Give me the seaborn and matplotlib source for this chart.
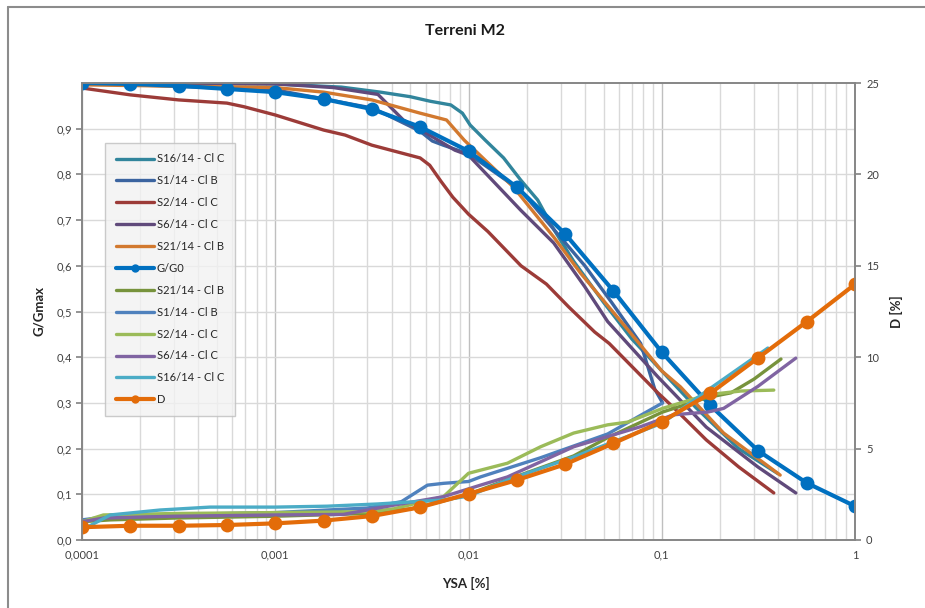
import numpy as np
import pandas as pd
import matplotlib
matplotlib.use("Agg")
import matplotlib.pyplot as plt
from matplotlib.ticker import FixedLocator, FuncFormatter, NullFormatter, LogLocator
from matplotlib.lines import Line2D
import seaborn as sns

sns.set_theme(style="white")
plt.rcParams["font.family"] = ["Lato", "DejaVu Sans"]

# ---- G/Gmax curves (left axis) ----
s16_g_x = [1e-4, 1e-3, 2.2e-3, 3.5e-3, 5e-3, 6.35e-3, 8.1e-3, 9.3e-3, 0.0102, 0.0122, 0.0152, 0.0186, 0.0228, 0.0276, 0.035, 0.05, 0.07, 0.1, 0.15, 0.25, 0.4]
s16_g_y = [1.0, 0.998, 0.991, 0.98, 0.97, 0.96, 0.952, 0.934, 0.908, 0.875, 0.836, 0.788, 0.744, 0.68, 0.61, 0.52, 0.44, 0.37, 0.29, 0.2, 0.145]

s1_g_x = [1e-4, 1e-3, 3.2e-3, 5.6e-3, 6.5e-3, 7.4e-3, 0.01, 0.0186, 0.0276, 0.04, 0.055, 0.0778, 0.092, 0.101]
s1_g_y = [1.0, 0.985, 0.945, 0.895, 0.873, 0.864, 0.845, 0.765, 0.68, 0.6, 0.52, 0.43, 0.33, 0.30]

s2_g_x = [1e-4, 1.78e-4, 3.16e-4, 5.62e-4, 6.9e-4, 1e-3, 1.78e-3, 2.3e-3, 3.16e-3, 4.3e-3, 5.62e-3, 6.3e-3, 7.2e-3, 8.3e-3, 0.01, 0.0126, 0.0187, 0.0253, 0.033, 0.045, 0.0535, 0.0955, 0.115, 0.17, 0.25, 0.38]
s2_g_y = [0.989, 0.974, 0.963, 0.956, 0.948, 0.93, 0.897, 0.886, 0.864, 0.849, 0.836, 0.82, 0.785, 0.75, 0.713, 0.675, 0.6, 0.56, 0.51, 0.455, 0.43, 0.322, 0.29, 0.219, 0.16, 0.103]

s6_g_x = [1e-4, 1e-3, 2e-3, 3.4e-3, 4.6e-3, 5.9e-3, 8.5e-3, 0.01, 0.0186, 0.0276, 0.04, 0.0525, 0.0955, 0.17, 0.314, 0.494]
s6_g_y = [1.0, 0.998, 0.99, 0.975, 0.919, 0.893, 0.853, 0.842, 0.722, 0.65, 0.554, 0.478, 0.357, 0.247, 0.16, 0.103]

s21_g_x = [1e-4, 1e-3, 1.78e-3, 3.16e-3, 5.62e-3, 7.7e-3, 0.0095, 0.0171, 0.0276, 0.038, 0.0662, 0.1, 0.125, 0.209, 0.41]
s21_g_y = [0.996, 0.99, 0.98, 0.963, 0.934, 0.919, 0.875, 0.772, 0.663, 0.584, 0.462, 0.37, 0.335, 0.234, 0.142]

gg0_x = [1e-4, 1.78e-4, 3.16e-4, 5.62e-4, 1e-3, 1.78e-3, 3.16e-3, 5.62e-3, 1e-2, 1.78e-2, 3.16e-2, 5.62e-2, 0.1, 0.178, 0.316, 0.562, 1.0]
gg0_y = [1.0, 0.998, 0.994, 0.987, 0.98, 0.965, 0.943, 0.904, 0.851, 0.772, 0.67, 0.545, 0.411, 0.295, 0.195, 0.125, 0.074]

# ---- damping curves, D [%] (right axis) ----
s21_d_x = [1e-4, 1.4e-4, 3e-4, 1e-3, 3e-3, 5e-3, 7.2e-3, 0.01, 0.0159, 0.035, 0.0525, 0.101, 0.173, 0.228, 0.3, 0.414]
s21_d_y = [1.0, 1.1, 1.2, 1.3, 1.45, 1.7, 2.1, 2.5, 3.3, 4.6, 5.6, 7.0, 7.8, 8.05, 8.8, 9.9]

s1_d_x = [1e-4, 1.4e-4, 3e-4, 1e-3, 3e-3, 4.5e-3, 6.13e-3, 7.42e-3, 0.01, 0.01153, 0.0236, 0.0525, 0.101]
s1_d_y = [1.1, 1.3, 1.4, 1.5, 1.75, 2.1, 3.0, 3.1, 3.2, 3.45, 4.5, 5.8, 7.5]

s2_d_x = [1e-4, 1.29e-4, 3e-4, 1e-3, 3.1e-3, 4.08e-3, 7.42e-3, 0.01, 0.0159, 0.0236, 0.035, 0.0525, 0.0667, 0.101, 0.173, 0.257, 0.38]
s2_d_y = [1.0, 1.37, 1.45, 1.5, 1.55, 1.7, 2.37, 3.65, 4.2, 5.1, 5.85, 6.3, 6.45, 7.2, 7.95, 8.15, 8.2]

s6_d_x = [1e-4, 1.29e-4, 3e-4, 1e-3, 2.25e-3, 4.08e-3, 7.42e-3, 0.01153, 0.0159, 0.035, 0.0778, 0.115, 0.173, 0.209, 0.314, 0.494]
s6_d_y = [1.0, 1.2, 1.3, 1.37, 1.4, 1.9, 2.37, 3.0, 3.45, 5.1, 6.2, 6.85, 7.0, 7.2, 8.4, 9.95]

s16_d_x = [1e-4, 1.4e-4, 2.53e-4, 4.6e-4, 1e-3, 1.86e-3, 3.37e-3, 7.42e-3, 0.01, 0.0159, 0.035, 0.101, 0.173, 0.354]
s16_d_y = [0.55, 1.37, 1.64, 1.8, 1.8, 1.85, 1.97, 2.19, 2.4, 3.28, 4.54, 6.4, 8.2, 10.5]

d_x = gg0_x
d_y = [0.7, 0.78, 0.78, 0.82, 0.91, 1.06, 1.31, 1.79, 2.52, 3.28, 4.14, 5.29, 6.47, 8.02, 9.97, 11.94, 13.99]

x_tick_vals = [1e-4, 1e-3, 1e-2, 1e-1, 1]
x_tick_labels = ["0,0001", "0,001", "0,01", "0,1", "1"]

fig = plt.figure(figsize=(9.25, 6.08), dpi=100)
ax = fig.add_axes([82 / 925, 1 - 540 / 608, (855 - 82) / 925, (540 - 83) / 608])
ax2 = ax.twinx()


def draw(axis, xs, ys, label, color, lw=2.4, marker=None, ms=0):
    df = pd.DataFrame({"x": xs, "y": ys})
    sns.lineplot(data=df, x="x", y="y", ax=axis, color=color, linewidth=lw,
                 marker=marker, markersize=ms, markeredgewidth=0,
                 sort=False, estimator=None, label=label, legend=False)


draw(ax, s16_g_x, s16_g_y, "S16/14 - Cl C", "#31859C")
draw(ax, s1_g_x, s1_g_y, "S1/14 - Cl B", "#3B64A0")
draw(ax, s2_g_x, s2_g_y, "S2/14 - Cl C", "#9C3B38")
draw(ax, s6_g_x, s6_g_y, "S6/14 - Cl C", "#604A7B")
draw(ax, s21_g_x, s21_g_y, "S21/14 - Cl B", "#D2792F")
draw(ax, gg0_x, gg0_y, "G/G0", "#0070C0", lw=3.0, marker="o", ms=10)

draw(ax2, s21_d_x, s21_d_y, "S21/14 - Cl B", "#77933C")
draw(ax2, s1_d_x, s1_d_y, "S1/14 - Cl B", "#4F81BD")
draw(ax2, s2_d_x, s2_d_y, "S2/14 - Cl C", "#9BBB59")
draw(ax2, s6_d_x, s6_d_y, "S6/14 - Cl C", "#8064A2")
draw(ax2, s16_d_x, s16_d_y, "S16/14 - Cl C", "#4BACC6")
draw(ax2, d_x, d_y, "D", "#E36C09", lw=3.0, marker="o", ms=10)

ax.set_xscale("log")
ax.set_xlim(1e-4, 1)
ax.set_ylim(0, 1)
ax2.set_ylim(0, 25)

ax.xaxis.set_major_locator(FixedLocator(x_tick_vals))
ax.xaxis.set_major_formatter(FuncFormatter(lambda v, p: x_tick_labels[x_tick_vals.index(v)] if v in x_tick_vals else ""))
ax.xaxis.set_minor_locator(LogLocator(base=10, subs=np.arange(2, 10)))
ax.xaxis.set_minor_formatter(NullFormatter())
ax.set_yticks(np.arange(0, 0.95, 0.1))
ax.yaxis.set_major_formatter(FuncFormatter(lambda v, p: f"{v:.1f}".replace(".", ",")))
ax2.set_yticks([0, 5, 10, 15, 20, 25])

grid_c = "#D9D9D9"
ax.grid(True, which="major", axis="x", color="#BFBFBF", linewidth=1.0)
ax.grid(True, which="minor", axis="x", color=grid_c, linewidth=1.0)
ax.grid(True, which="major", axis="y", color=grid_c, linewidth=1.0)
ax.set_axisbelow(True)

spine_c = "#868686"
for a in (ax, ax2):
    for s in a.spines.values():
        s.set_color(spine_c)
        s.set_linewidth(1.2)
ax.tick_params(axis="both", which="major", direction="out", length=4, color=spine_c,
               labelsize=8, labelcolor="#404040", pad=3)
ax.tick_params(axis="x", which="minor", length=0)
ax2.tick_params(axis="y", direction="out", length=4, color=spine_c, labelsize=8,
                labelcolor="#404040", pad=4)

ax.set_xlabel("YSA [%]", fontsize=9.5, fontweight="bold", color="#262626")
ax.set_ylabel("G/Gmax", fontsize=9.5, fontweight="bold", color="#262626")
ax2.set_ylabel("D [%]", fontsize=9.5, fontweight="bold", color="#262626")
ax.xaxis.set_label_coords((466 - 82) / 773, -37 / 457)
ax.yaxis.set_label_coords(-37 / 773, 0.5)
ax2.yaxis.set_label_coords(1 + 35 / 773, 0.5)

fig.text(0.503, 0.949, "Terreni M2", ha="center", va="center", fontsize=11.5,
         fontweight="bold", color="#1a1a1a")

h1, l1 = ax.get_legend_handles_labels()
h2, l2 = ax2.get_legend_handles_labels()
leg = ax2.legend(h1 + h2, l1 + l2, loc="upper left", bbox_to_anchor=(0.03, 0.869),
                 fontsize=8, frameon=True, fancybox=False, facecolor="#F2F2F2",
                 edgecolor="#BFBFBF", handlelength=3.4, labelspacing=0.98,
                 borderpad=0.95, handletextpad=0.3, borderaxespad=0, markerscale=0.6)
leg.get_frame().set_linewidth(1.0)
for t in leg.get_texts():
    t.set_color("#262626")

# outer chart frame
fig.add_artist(Line2D([8 / 925, 8 / 925], [0, 1 - 7 / 608], transform=fig.transFigure,
                      color="#8C8C8C", linewidth=1.5))
fig.add_artist(Line2D([8 / 925, 1], [1 - 7 / 608, 1 - 7 / 608], transform=fig.transFigure,
                      color="#8C8C8C", linewidth=1.5))

fig.savefig("out.png", dpi=100)
